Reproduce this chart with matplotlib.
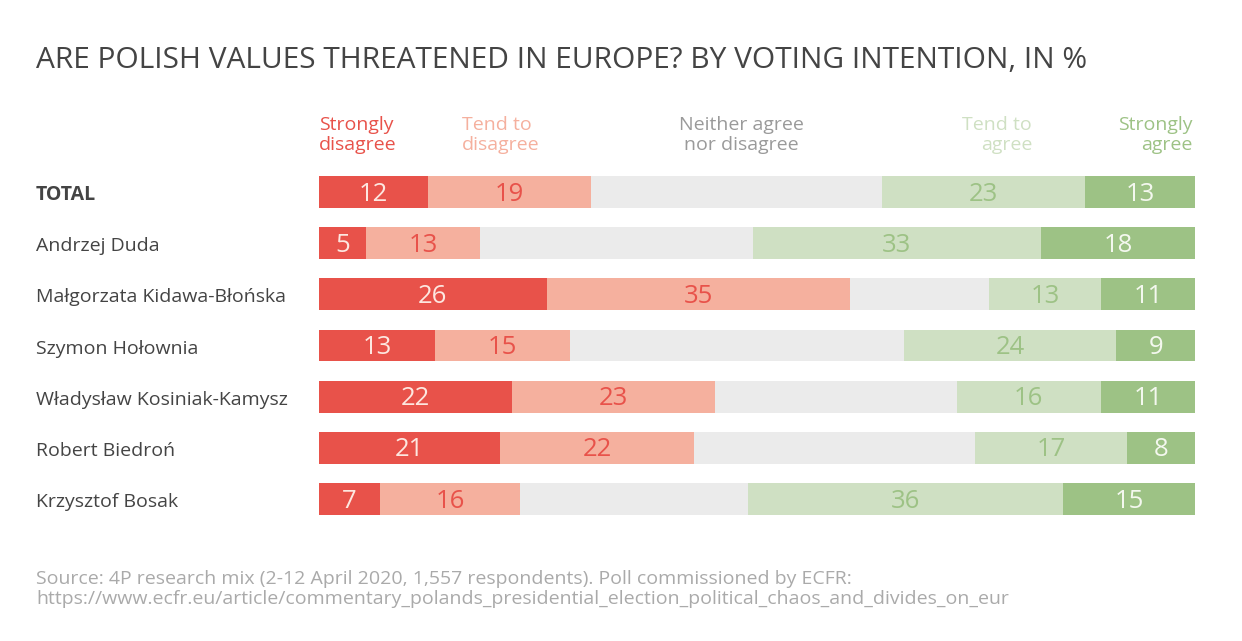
import matplotlib.pyplot as plt
from matplotlib.transforms import blended_transform_factory

plt.rcParams['font.family'] = ['Open Sans', 'DejaVu Sans']

# Data (shares in %)
rows = ["TOTAL", "Andrzej Duda", "Małgorzata Kidawa-Błońska", "Szymon Hołownia",
        "Władysław Kosiniak-Kamysz", "Robert Biedroń", "Krzysztof Bosak"]
strongly_disagree = [12.4, 5.4, 26.0, 13.2, 22.0, 20.7, 7.0]
tend_disagree = [18.6, 13.0, 34.6, 15.4, 23.2, 22.1, 15.9]
neither = [33.2, 31.1, 15.9, 38.2, 27.6, 32.1, 26.1]
tend_agree = [23.2, 32.9, 12.7, 24.2, 16.4, 17.3, 35.9]
strongly_agree = [12.6, 17.6, 10.8, 9.0, 10.8, 7.8, 15.1]

series = [strongly_disagree, tend_disagree, neither, tend_agree, strongly_agree]
colors = ["#e8524a", "#f5b09e", "#ebebeb", "#cfe0c3", "#9dc285"]
label_colors = ["#fde7e0", "#e8524a", None, "#9dc285", "#f4f8ef"]

W, H = 1242, 641
fig = plt.figure(figsize=(W / 100, H / 100), dpi=100)
fig.patch.set_facecolor("white")

# axes placed so bars span x 319..1195 px and rows sit at y 192..499 px
top_px, bot_px = 166.4, 524.6
ax = fig.add_axes([319 / W, 1 - bot_px / H, 876.3 / W, (bot_px - top_px) / H])
ax.set_xlim(0, 100)
ax.set_ylim(len(rows) - 0.5, -0.5)
ax.axis("off")

for i in range(len(rows)):
    left = 0
    for s, vals in enumerate(series):
        v = vals[i]
        ax.barh(i, v, left=left, height=0.625, color=colors[s], linewidth=0)
        if label_colors[s] is not None:
            ax.text(left + v / 2, i + 0.04, f"{v:.0f}", ha="center", va="center",
                    fontsize=18.5, color=label_colors[s])
        left += v

# row labels
tr = blended_transform_factory(fig.transFigure, ax.transData)
for i, name in enumerate(rows):
    ax.text(36 / W, i + 0.06, name, transform=tr, ha="left", va="center",
            fontsize=14, color="#444444",
            fontweight="bold" if name == "TOTAL" else "normal")

# title
fig.text(36 / W, 1 - 68 / H, "ARE POLISH VALUES THREATENED IN EUROPE? BY VOTING INTENTION, IN %",
         ha="left", va="baseline", fontsize=21.5, color="#444444")

# column headers (y = baseline of the second line)
hdr_y = 1 - 150 / H
hdr_kw = dict(va="baseline", fontsize=14, linespacing=1.17)
fig.text(319 / W, hdr_y, "Strongly\ndisagree", ha="left", ma="left", color="#e8524a", **hdr_kw)
fig.text(462 / W, hdr_y, "Tend to\ndisagree", ha="left", ma="left", color="#f5b09e", **hdr_kw)
fig.text(741 / W, hdr_y, "Neither agree\nnor disagree", ha="center", ma="center", color="#9a9a9a", **hdr_kw)
fig.text(1032 / W, hdr_y, "Tend to\nagree", ha="right", ma="right", color="#cfe0c3", **hdr_kw)
fig.text(1193 / W, hdr_y, "Strongly\nagree", ha="right", ma="right", color="#9dc285", **hdr_kw)

# source
fig.text(36 / W, 1 - 604 / H,
         "Source: 4P research mix (2-12 April 2020, 1,557 respondents). Poll commissioned by ECFR:\n"
         "https://www.ecfr.eu/article/commentary_polands_presidential_election_political_chaos_and_divides_on_eur",
         ha="left", va="baseline", fontsize=14, color="#aaaaaa", linespacing=1.17)

fig.savefig("out.png", dpi=100, facecolor="white")
